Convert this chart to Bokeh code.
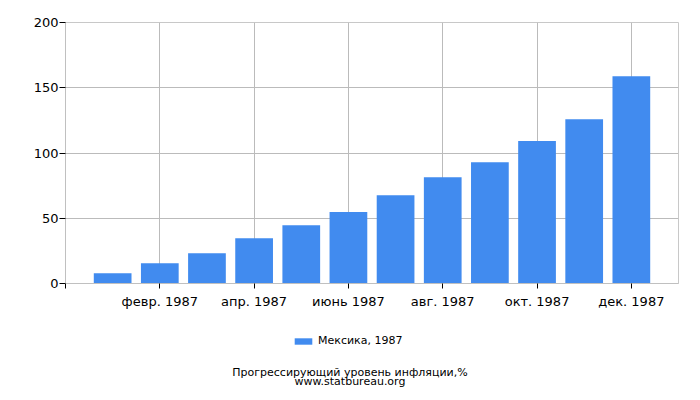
from bokeh.plotting import figure
from bokeh.layouts import column
from bokeh.models import Legend, LegendItem, Label, FixedTicker, ColumnDataSource
from bokeh.embed import file_html
from bokeh.resources import INLINE

months = list(range(1, 13))
values = [7.9, 15.6, 23.2, 34.7, 44.7, 54.7, 67.7, 81.5, 93.0, 109.1, 125.9, 158.9]
tick_positions = [0, 2, 4, 6, 8, 10, 12]
tick_labels = ["", "февр. 1987", "апр. 1987", "июнь 1987", "авг. 1987", "окт. 1987", "дек. 1987"]
series_name = "Мексика, 1987"
title_line1 = "Прогрессирующий уровень инфляции,%"
title_line2 = "www.statbureau.org"

FONT = "DejaVu Sans"
BLUE = "#418BEF"

p = figure(width=684, height=311, x_range=(0, 13), y_range=(0, 200),
           output_backend="svg", toolbar_location=None,
           min_border_left=65, min_border_right=6, min_border_top=22, min_border_bottom=28)

src = ColumnDataSource(dict(x=months, top=values))
r = p.vbar(x="x", top="top", width=0.8, bottom=0, source=src, color=BLUE, line_color=None)

p.xaxis.ticker = FixedTicker(ticks=tick_positions)
p.xaxis.major_label_overrides = {t: l for t, l in zip(tick_positions, tick_labels)}
p.yaxis.ticker = FixedTicker(ticks=[0, 50, 100, 150, 200])

for ax in (p.xaxis[0], p.yaxis[0]):
    ax.axis_line_color = "#c0c0c0"
    ax.major_tick_line_color = "black"
    ax.major_tick_in = 0
    ax.minor_tick_line_color = None
    ax.major_label_text_font = FONT
    ax.major_label_text_font_size = "13px"
    ax.major_label_text_color = "black"
p.xaxis.major_tick_out = 5
p.yaxis.major_tick_out = 6
p.xaxis.major_label_standoff = 5
p.yaxis.major_label_standoff = 1

p.xgrid.grid_line_color = "#bbbbbb"
p.ygrid.grid_line_color = "#bbbbbb"
p.outline_line_color = "#c8c8c8"

# footer: legend and caption; its ranges are far from the bar data so only the legend swatch shows
X0 = 5000
Y0 = 5000
f = figure(width=684, height=82, x_range=(X0, X0 + 613), y_range=(Y0, Y0 + 82),
           output_backend="svg", toolbar_location=None,
           x_axis_location=None, y_axis_location=None,
           min_border_left=65, min_border_right=6, min_border_top=0, min_border_bottom=0)
f.grid.visible = False
f.outline_line_color = None
swatch = f.vbar(x="x", top="top", width=0.8, source=src, color=BLUE, line_color=None)

legend = Legend(items=[LegendItem(label=series_name, renderers=[swatch])],
                location=(227, 46), orientation="horizontal",
                glyph_width=22, glyph_height=8, label_height=8,
                label_standoff=4, padding=0, margin=0, spacing=0,
                border_line_color=None, background_fill_alpha=0,
                label_text_font=FONT, label_text_font_size="11px", label_text_color="black")
f.add_layout(legend)

for txt, yy in ((title_line1, 21), (title_line2, 12)):
    f.add_layout(Label(x=X0 + 284.5, y=Y0 + yy, text=txt, text_align="center", text_baseline="alphabetic",
                       text_font=FONT, text_font_size="11px", text_color="black"))

open("out.html", "w").write(file_html(column(p, f, spacing=0), INLINE))
